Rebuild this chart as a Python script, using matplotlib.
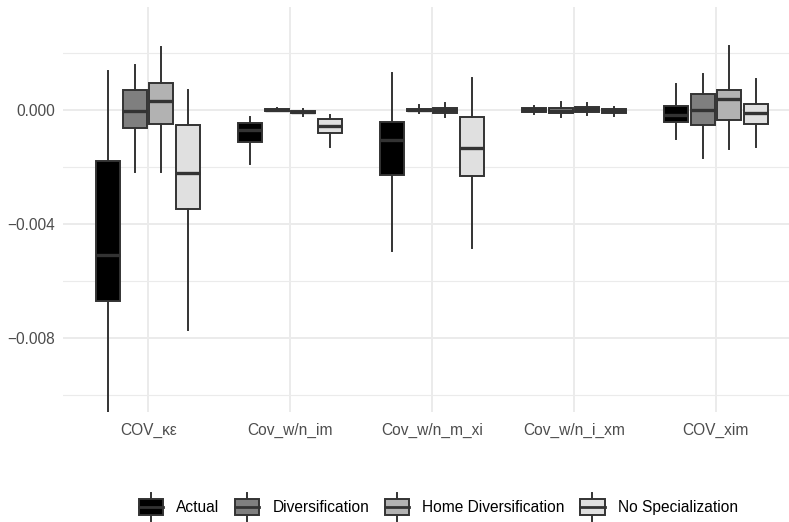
import matplotlib
matplotlib.use("Agg")
import matplotlib.pyplot as plt
from matplotlib.patches import Rectangle, Patch
from matplotlib.lines import Line2D
from matplotlib.legend_handler import HandlerBase
import numpy as np

plt.rcParams['font.family'] = ['Liberation Sans', 'DejaVu Sans']

categories = ["COV_κε", "Cov_w/n_im", "Cov_w/n_m_xi", "Cov_w/n_i_xm", "COV_xim"]
series = ["Actual", "Diversification", "Home Diversification", "No Specialization"]
fills = ["#000000", "#7F7F7F", "#B2B2B2", "#E0E0E0"]

# per series: values per category
actual_whislo = [-0.0115, -0.00190, -0.00494, -0.00014, -0.00102]
actual_q1     = [-0.00670, -0.00113, -0.00228, -0.00008, -0.00043]
actual_med    = [-0.00509, -0.00070, -0.00105, -0.00001, -0.00018]
actual_q3     = [-0.00178, -0.00044, -0.00041, 0.00006, 0.00015]
actual_whishi = [0.00138, -0.00023, 0.00131, 0.00015, 0.00091]

div_whislo = [-0.00219, -0.00005, -0.00012, -0.00026, -0.00170]
div_q1     = [-0.00062, -0.00003, -0.00005, -0.00012, -0.00053]
div_med    = [-0.00002, 0.00000, 0.00000, -0.00002, 0.00000]
div_q3     = [0.00070, 0.00003, 0.00005, 0.00008, 0.00055]
div_whishi = [0.00158, 0.00006, 0.00018, 0.00027, 0.00125]

home_whislo = [-0.00219, -0.00021, -0.00026, -0.00018, -0.00138]
home_q1     = [-0.00049, -0.00011, -0.00009, -0.00006, -0.00036]
home_med    = [0.00030, -0.00007, 0.00000, 0.00003, 0.00037]
home_q3     = [0.00096, -0.00003, 0.00008, 0.00012, 0.00070]
home_whishi = [0.00222, 0.00003, 0.00023, 0.00023, 0.00225]

nospec_whislo = [-0.00772, -0.00129, -0.00485, -0.00021, -0.00131]
nospec_q1     = [-0.00348, -0.00082, -0.00230, -0.00009, -0.00049]
nospec_med    = [-0.00220, -0.00056, -0.00132, -0.00002, -0.00012]
nospec_q3     = [-0.00054, -0.00032, -0.00023, 0.00004, 0.00020]
nospec_whishi = [0.00070, -0.00019, 0.00111, 0.00012, 0.00109]

stats_by_series = [
    (actual_whislo, actual_q1, actual_med, actual_q3, actual_whishi),
    (div_whislo, div_q1, div_med, div_q3, div_whishi),
    (home_whislo, home_q1, home_med, home_q3, home_whishi),
    (nospec_whislo, nospec_q1, nospec_med, nospec_q3, nospec_whishi),
]

yticks = [0.0, -0.004, -0.008]
ytick_labels = ["0.000", "\u22120.004", "\u22120.008"]
yminor = [0.002, -0.002, -0.006, -0.010]

W, H = 789, 522
fig = plt.figure(figsize=(W / 100, H / 100), dpi=100)
ax = fig.add_axes([63 / W, 1 - 412 / H, (801 - 63) / W, (412 - 7) / H])

edge = "#333333"
n = len(series)
dodge = 0.75 / n
bw = dodge * 0.9
xpos = np.arange(1, len(categories) + 1)

for i, (wl, q1, md, q3, wh) in enumerate(stats_by_series):
    stats = []
    for j in range(len(categories)):
        stats.append(dict(whislo=wl[j], q1=q1[j], med=md[j], q3=q3[j], whishi=wh[j], fliers=[]))
    pos = xpos + (i - (n - 1) / 2) * dodge
    ax.bxp(stats, positions=pos, widths=bw, patch_artist=True, showcaps=False,
           showfliers=False, manage_ticks=False,
           boxprops=dict(facecolor=fills[i], edgecolor=edge, linewidth=1.4),
           whiskerprops=dict(color=edge, linewidth=1.4),
           medianprops=dict(color=edge, linewidth=2.4, solid_capstyle='butt'),
           zorder=3)

ax.set_xlim(0.4, 5.6)
ax.set_ylim(-0.010596, 0.003614)
ax.set_xticks(xpos)
ax.set_xticklabels(categories)
ax.set_yticks(yticks)
ax.set_yticklabels(ytick_labels)
ax.set_yticks(yminor, minor=True)
ax.tick_params(axis='both', which='both', length=0, labelsize=11.2, labelcolor="#4D4D4D")
ax.tick_params(axis='y', pad=6)
ax.tick_params(axis='x', pad=7.5)
ax.grid(True, which='major', color="#EBEBEB", linewidth=1.4, zorder=0)
ax.grid(True, which='minor', axis='y', color="#EBEBEB", linewidth=0.8, zorder=0)
ax.set_axisbelow(True)
for s in ax.spines.values():
    s.set_visible(False)


class BoxHandler(HandlerBase):
    def create_artists(self, legend, orig_handle, xdescent, ydescent, width, height, fontsize, trans):
        x0, y0 = -xdescent, -ydescent
        cx = x0 + width / 2
        rect = Rectangle((x0, y0), width, height, facecolor=orig_handle.get_facecolor(),
                         edgecolor=edge, linewidth=1.4, transform=trans)
        med = Line2D([x0, x0 + width], [y0 + height / 2] * 2, color=edge, linewidth=2.0, transform=trans)
        w1 = Line2D([cx, cx], [y0 + height, y0 + height * 1.33], color=edge, linewidth=1.4, transform=trans)
        w2 = Line2D([cx, cx], [y0, y0 - height * 0.33], color=edge, linewidth=1.4, transform=trans)
        return [w1, w2, rect, med]


handles = [Patch(facecolor=f) for f in fills]
fig.legend(handles, series, handler_map={Patch: BoxHandler()}, loc='center',
           bbox_to_anchor=(438.5 / W, 1 - 507 / H), ncol=4, frameon=False,
           fontsize=11.2, handlelength=1.55, handleheight=1.25, handletextpad=0.85,
           columnspacing=1.0, labelcolor="#000000")

fig.savefig("out.png", dpi=100, facecolor="white")
